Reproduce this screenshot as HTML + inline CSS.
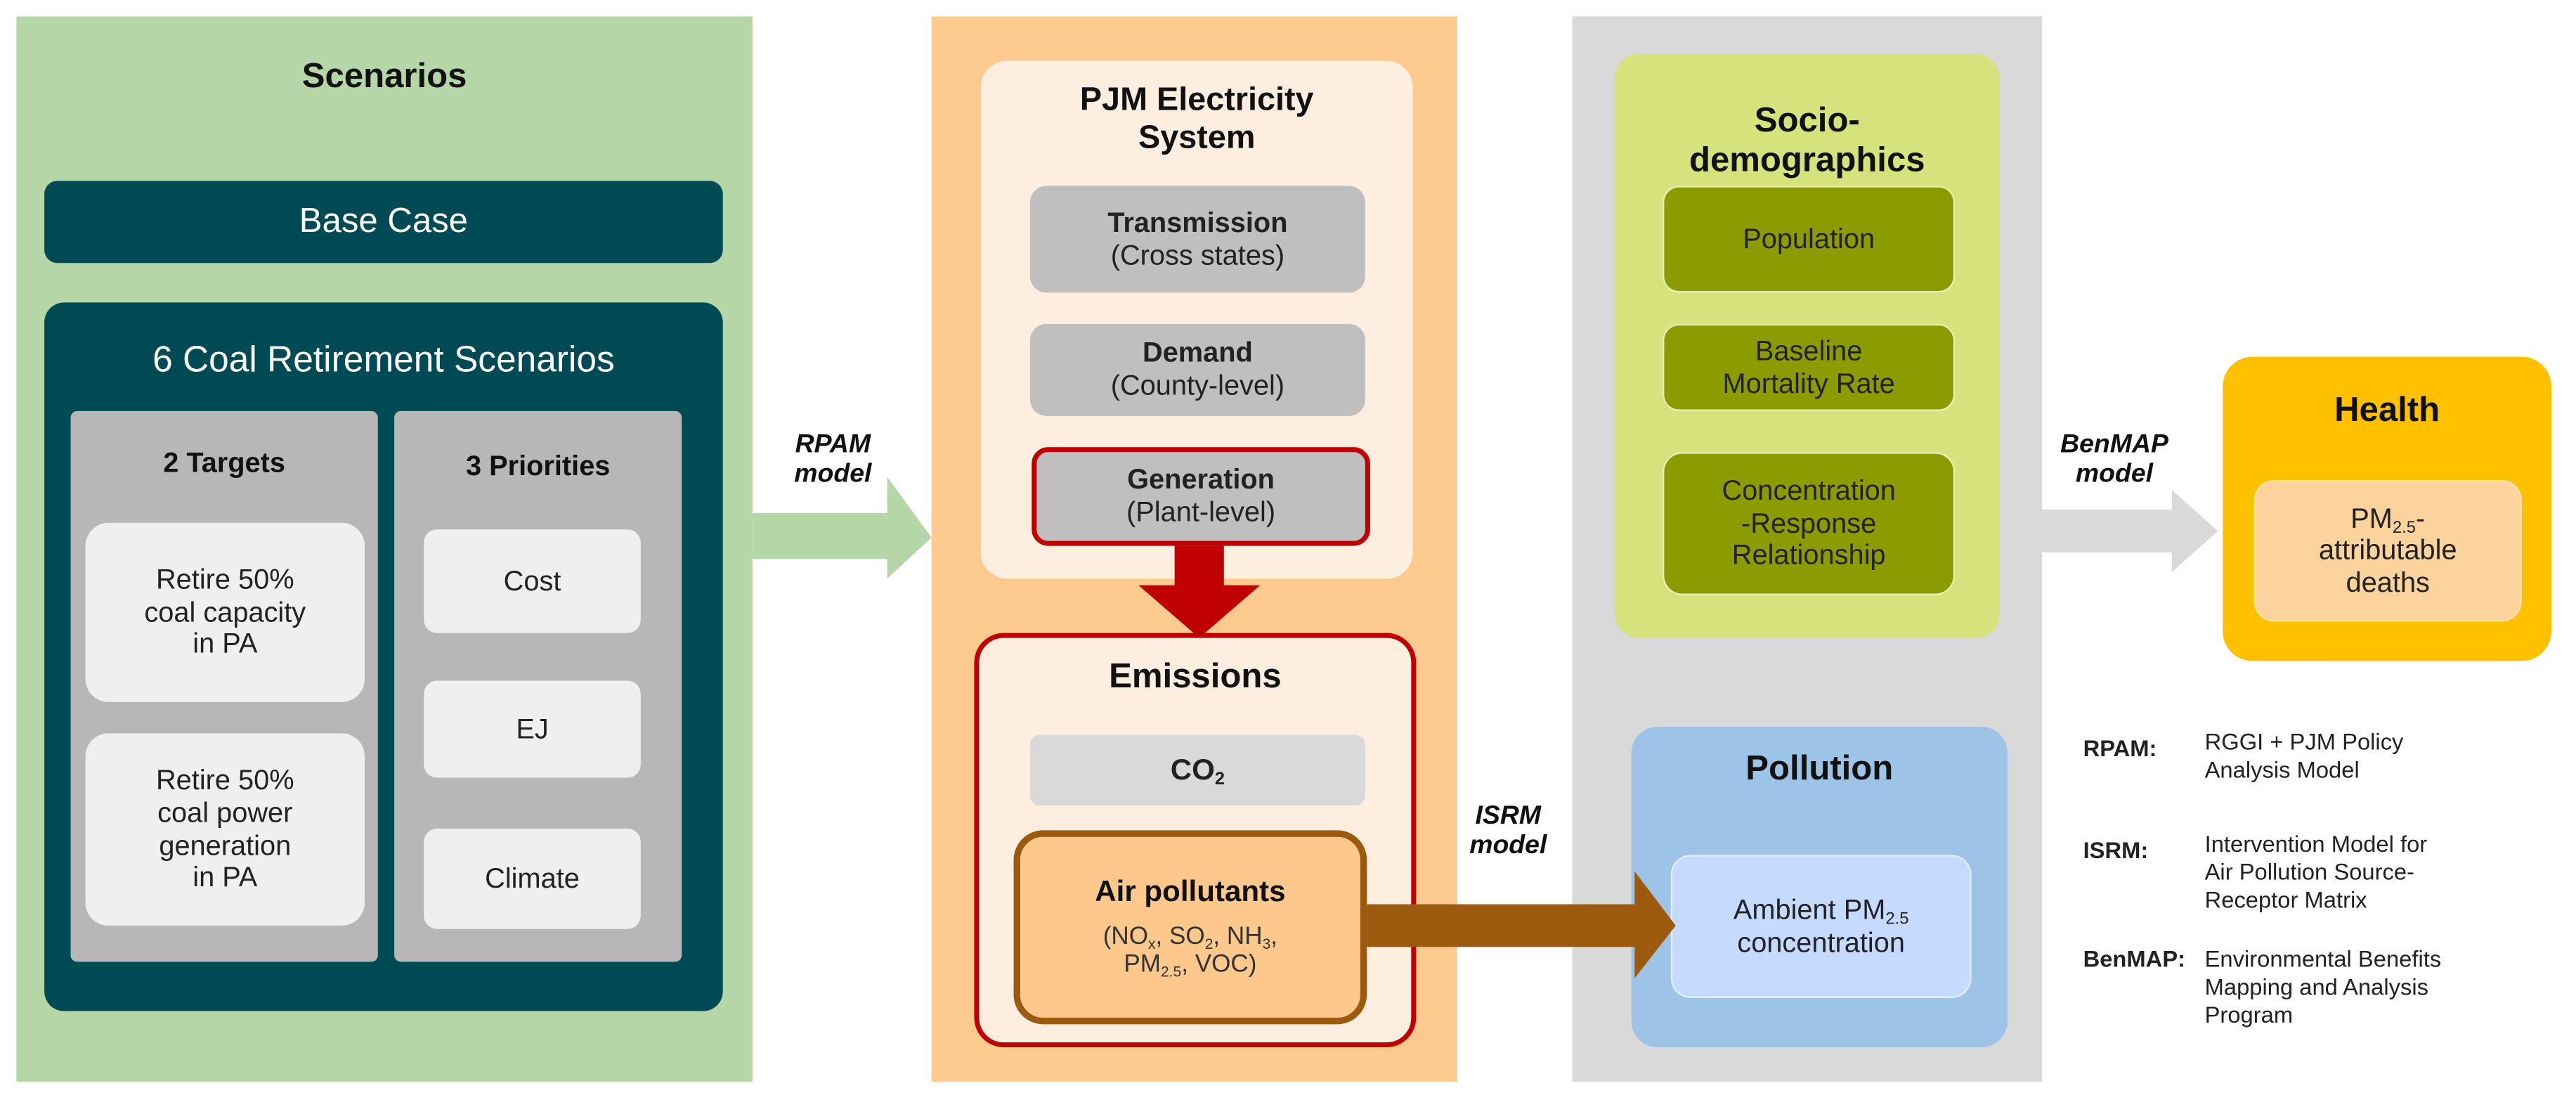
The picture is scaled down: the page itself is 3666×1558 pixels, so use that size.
<!DOCTYPE html>
<html><head><meta charset="utf-8"><style>
html,body{margin:0;padding:0;background:#fff;width:3666px;height:1558px;overflow:hidden}
#s{position:absolute;left:0;top:0;width:1568px;height:666px;transform:scale(2.338,2.3393);transform-origin:0 0;font-family:"Liberation Sans",Arial,sans-serif}
.b{position:absolute;box-sizing:border-box;display:flex;flex-direction:column;align-items:center;justify-content:center;text-align:center;line-height:1.15}
.t{position:absolute;text-align:center;font-weight:bold;line-height:1.15}
sub{font-size:60%;vertical-align:-3px;line-height:0}
</style></head><body><div id="s">
<div class="b" style="left:10px;top:10px;width:448px;height:648px;background:#b5d6a7"></div>
<div class="t" style="left:10px;top:35px;width:448px;font-size:21px;color:#111">Scenarios</div>
<div class="b" style="left:27px;top:110px;width:413px;height:50px;background:#004a55;border-radius:8px;color:#fff;font-size:21px"><div>Base Case</div></div>
<div class="b" style="left:27px;top:184px;width:413px;height:431px;background:#004a55;border-radius:12px"></div>
<div class="t" style="left:27px;top:206px;width:413px;font-size:22px;color:#fff;font-weight:normal">6 Coal Retirement Scenarios</div>
<div class="b" style="left:43px;top:250px;width:187px;height:335px;background:#b7b7b7;border-radius:4px"></div>
<div class="t" style="left:43px;top:272px;width:187px;font-size:17px;color:#111">2 Targets</div>
<div class="b" style="left:52px;top:318px;width:170px;height:109px;background:#efefef;border-radius:14px;font-size:17px;color:#222"><div>Retire 50%<br>coal capacity<br>in PA</div></div>
<div class="b" style="left:52px;top:446px;width:170px;height:117px;background:#efefef;border-radius:14px;font-size:17px;color:#222"><div>Retire 50%<br>coal power<br>generation<br>in PA</div></div>
<div class="b" style="left:240px;top:250px;width:175px;height:335px;background:#b7b7b7;border-radius:4px"></div>
<div class="t" style="left:240px;top:274px;width:175px;font-size:17px;color:#111">3 Priorities</div>
<div class="b" style="left:258px;top:322px;width:132px;height:63px;background:#efefef;border-radius:8px;font-size:17px;color:#222"><div>Cost</div></div>
<div class="b" style="left:258px;top:414px;width:132px;height:59px;background:#efefef;border-radius:8px;font-size:17px;color:#222"><div>EJ</div></div>
<div class="b" style="left:258px;top:504px;width:132px;height:61px;background:#efefef;border-radius:8px;font-size:17px;color:#222"><div>Climate</div></div>
<div class="t" style="left:462px;top:262px;width:90px;font-size:16px;font-style:italic;color:#111">RPAM<br>model</div>
<svg style="position:absolute;left:0;top:0" width="1568" height="666">
<polygon points="458,312 540,312 540,290 567,327 540,352 540,340 458,340" fill="#b5d6a7"/>
<polygon points="1243,310 1322,310 1322,298 1350,323 1322,348 1322,336 1243,336" fill="#d9d9d9"/>
</svg>
<div class="b" style="left:567px;top:10px;width:320px;height:648px;background:#fcc98e"></div>
<div class="b" style="left:597px;top:37px;width:263px;height:315px;background:#fdeedf;border-radius:16px"></div>
<div class="t" style="left:597px;top:50px;width:263px;font-size:20px;color:#111">PJM Electricity<br>System</div>
<div class="b" style="left:627px;top:113px;width:204px;height:65px;background:#bfbfbf;border-radius:10px;font-size:17px;color:#222"><div><b>Transmission</b><br>(Cross states)</div></div>
<div class="b" style="left:627px;top:197px;width:204px;height:56px;background:#bfbfbf;border-radius:10px;font-size:17px;color:#222"><div><b>Demand</b><br>(County-level)</div></div>
<div class="b" style="left:628px;top:272px;width:206px;height:60px;background:#bfbfbf;border:3px solid #c00000;border-radius:10px;font-size:17px;color:#222"><div><b>Generation</b><br>(Plant-level)</div></div>
<svg style="position:absolute;left:0;top:0" width="1568" height="666">
<polygon points="715,332 745,332 745,356 767,356 730,388 693,356 715,356" fill="#c00000"/>
</svg>
<div class="b" style="left:593px;top:385px;width:269px;height:252px;background:#fdeedf;border:3px solid #c00000;border-radius:18px"></div>
<div class="t" style="left:593px;top:400px;width:269px;font-size:21px;color:#111">Emissions</div>
<div class="b" style="left:627px;top:447px;width:204px;height:43px;background:#d9d9d9;border-radius:6px;font-size:18px;font-weight:bold;color:#222"><div>CO<sub>2</sub></div></div>
<div class="b" style="left:617px;top:505px;width:215px;height:118px;background:#fcc88c;border:4px solid #9c5a0e;border-radius:18px;font-size:15px;color:#333"><div><b style="font-size:18px;color:#111;display:block;margin-bottom:8px">Air pollutants</b>(NO<sub>x</sub>, SO<sub>2</sub>, NH<sub>3</sub>,<br>PM<sub>2.5</sub>, VOC)</div></div>
<div class="b" style="left:957px;top:10px;width:286px;height:648px;background:#d9d9d9"></div>
<div class="t" style="left:868px;top:488px;width:100px;font-size:16px;font-style:italic;color:#111">ISRM<br>model</div>
<div class="b" style="left:983px;top:33px;width:234px;height:355px;background:#d6e27c;border-radius:14px"></div>
<div class="t" style="left:983px;top:62px;width:234px;font-size:21px;color:#111">Socio-<br>demographics</div>
<div class="b" style="left:1012px;top:113px;width:178px;height:65px;background:#8b9b00;border:1.5px solid #e8efb0;border-radius:10px;font-size:17px;color:#222"><div>Population</div></div>
<div class="b" style="left:1012px;top:197px;width:178px;height:53px;background:#8b9b00;border:1.5px solid #e8efb0;border-radius:10px;font-size:17px;color:#222"><div>Baseline<br>Mortality Rate</div></div>
<div class="b" style="left:1012px;top:275px;width:178px;height:87px;background:#8b9b00;border:1.5px solid #e8efb0;border-radius:12px;font-size:17px;color:#222"><div>Concentration<br>-Response<br>Relationship</div></div>
<div class="b" style="left:993px;top:442px;width:229px;height:195px;background:#9dc3e6;border-radius:16px"></div>
<div class="t" style="left:993px;top:456px;width:229px;font-size:21px;color:#111">Pollution</div>
<div class="b" style="left:1017px;top:520px;width:183px;height:87px;background:#c5daff;border:1.5px solid #e3edff;border-radius:12px;font-size:17px;color:#222"><div>Ambient PM<sub>2.5</sub><br>concentration</div></div>
<svg style="position:absolute;left:0;top:0" width="1568" height="666">
<polygon points="832,550 995,550 995,530 1020,563 995,595 995,576 832,576" fill="#9c5a0e"/>
</svg>
<div class="t" style="left:1232px;top:262px;width:110px;font-size:16px;font-style:italic;color:#111">BenMAP<br>model</div>
<div class="b" style="left:1353px;top:217px;width:200px;height:185px;background:#ffc000;border-radius:18px"></div>
<div class="t" style="left:1353px;top:238px;width:200px;font-size:21px;color:#111">Health</div>
<div class="b" style="left:1372px;top:292px;width:163px;height:86px;background:#fcd39c;border:1.5px solid #ffe2a8;border-radius:12px;font-size:17px;color:#222"><div>PM<sub>2.5</sub>-<br>attributable<br>deaths</div></div>
<div style="position:absolute;left:1268px;top:443px;font-size:14px;line-height:1.2;color:#222;width:300px">
<div style="position:absolute;left:0;top:4px;font-weight:bold">RPAM:</div>
<div style="position:absolute;left:74px;top:0">RGGI + PJM Policy<br>Analysis Model</div>
<div style="position:absolute;left:0;top:66px;font-weight:bold">ISRM:</div>
<div style="position:absolute;left:74px;top:62px">Intervention Model for<br>Air Pollution Source-<br>Receptor Matrix</div>
<div style="position:absolute;left:0;top:132px;font-weight:bold">BenMAP:</div>
<div style="position:absolute;left:74px;top:132px">Environmental Benefits<br>Mapping and Analysis<br>Program</div>
</div>
</div></body></html>
